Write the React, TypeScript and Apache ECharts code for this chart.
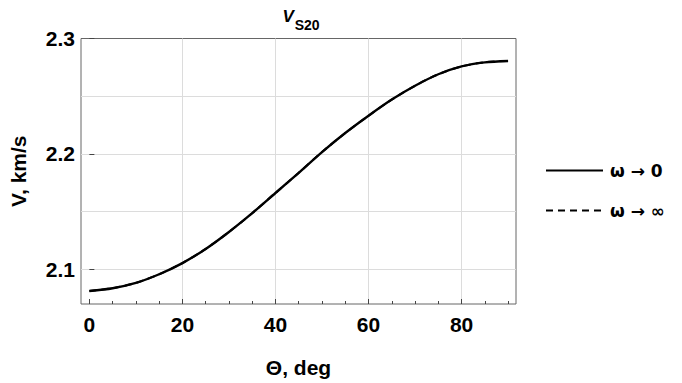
import React, { useEffect, useRef } from "react";
import * as echarts from "echarts";

// Polar angle of propagation, degrees
const thetaDeg = [0, 5, 10, 15, 20, 25, 30, 35, 40, 45, 50, 55, 60, 65, 70, 75, 80, 85, 90];
// Phase velocity of the S20 mode in the low-frequency limit, km/s
const vLowFreq = [
  2.081, 2.0834, 2.088, 2.0955, 2.1052, 2.1175, 2.1322, 2.1485, 2.166, 2.1835,
  2.2015, 2.218, 2.233, 2.247, 2.259, 2.269, 2.2758, 2.2793, 2.2805,
];
// Phase velocity in the high-frequency limit (coincides with the low-frequency curve)
const vHighFreq = [
  2.081, 2.0834, 2.088, 2.0955, 2.1052, 2.1175, 2.1322, 2.1485, 2.166, 2.1835,
  2.2015, 2.218, 2.233, 2.247, 2.259, 2.269, 2.2758, 2.2793, 2.2805,
];

const xMajorTicks = [0, 20, 40, 60, 80];
const xMinorTicks = [5, 10, 15, 25, 30, 35, 45, 50, 55, 65, 70, 75, 85, 90];
const xGridValues = [20, 40, 60, 80];
const yMajorTicks = [2.1, 2.2, 2.3];
const yGridValues = [2.1, 2.15, 2.2, 2.25];

const seriesNames = ["\u03c9 \u2192 0", "\u03c9 \u2192 \u221e"];

const FONT = "'Liberation Sans', Arial, 'DejaVu Sans', sans-serif";
const LEGEND_FONT = "'DejaVu Sans', 'Liberation Sans', sans-serif";
const X_MIN = -1.8;
const X_MAX = 91.7;
const Y_MIN = 2.0697;
const Y_MAX = 2.3;

export default function App() {
  const ref = useRef<HTMLDivElement>(null);

  useEffect(() => {
    if (!ref.current) return;
    const chart = echarts.init(ref.current, null, { renderer: "svg" });

    const pairs = (ys: number[]) => thetaDeg.map((t, i) => [t, ys[i]]);
    const tickColor = "#444";
    const gridColor = "#dcdcdc";

    const baseX = {
      type: "value" as const,
      min: X_MIN,
      max: X_MAX,
      position: "bottom" as const,
      axisLine: { show: false },
      splitLine: { show: false },
    };
    const baseY = {
      type: "value" as const,
      min: Y_MIN,
      max: Y_MAX,
      position: "left" as const,
      axisLine: { show: false },
      splitLine: { show: false },
    };

    chart.setOption({
      animation: false,
      backgroundColor: "#fff",
      textStyle: { fontFamily: FONT },
      title: {
        text: "{v|V}{s|S20}",
        left: 296,
        textAlign: "center",
        top: 3,
        textStyle: {
          rich: {
            v: {
              fontFamily: FONT,
              fontSize: 17,
              fontWeight: "bold",
              fontStyle: "italic",
              color: "#000",
              lineHeight: 24,
              verticalAlign: "top",
            },
            s: {
              fontFamily: FONT,
              fontSize: 14,
              fontWeight: "bold",
              color: "#000",
              lineHeight: 24,
              padding: [8, 0, 0, 1],
              verticalAlign: "bottom",
            },
          },
        },
      },
      legend: {
        orient: "vertical",
        left: 540,
        top: 157,
        itemWidth: 57,
        itemHeight: 20,
        itemGap: 23,
        itemStyle: { opacity: 0 },
        lineStyle: { color: "#000", width: 2 },
        textStyle: {
          fontFamily: LEGEND_FONT,
          fontSize: 17,
          fontWeight: "bold",
          color: "#000",
          padding: [0, 0, 0, 2],
        },
        data: seriesNames,
      },
      grid: {
        left: 79,
        top: 38.5,
        right: 166,
        bottom: 73,
        show: true,
        borderColor: "#666",
        borderWidth: 1,
        backgroundColor: "transparent",
      },
      xAxis: [
        {
          ...baseX,
          name: "\u0398, deg",
          nameLocation: "middle",
          nameGap: 53,
          nameTextStyle: { fontFamily: FONT, fontSize: 21, fontWeight: "bold", color: "#000" },
          axisTick: { inside: true, length: 5, customValues: xMajorTicks, lineStyle: { color: tickColor } },
          axisLabel: {
            customValues: xMajorTicks,
            margin: 10,
            fontFamily: FONT,
            fontSize: 21,
            fontWeight: "bold",
            color: "#000",
          },
        },
        {
          ...baseX,
          axisTick: { inside: true, length: 3, customValues: xMinorTicks, lineStyle: { color: tickColor } },
          axisLabel: { show: false },
        },
        {
          ...baseX,
          axisTick: { show: false, customValues: xGridValues },
          axisLabel: { show: false },
          splitLine: { show: true, lineStyle: { color: gridColor, width: 1 } },
        },
      ],
      yAxis: [
        {
          ...baseY,
          name: "V, km/s",
          nameLocation: "middle",
          nameGap: 52,
          nameRotate: 90,
          nameTextStyle: { fontFamily: FONT, fontSize: 21, fontWeight: "bold", color: "#000" },
          axisTick: { inside: true, length: 5, customValues: yMajorTicks, lineStyle: { color: tickColor } },
          axisLabel: {
            customValues: yMajorTicks,
            margin: 6,
            formatter: (v: number) => v.toFixed(1),
            fontFamily: FONT,
            fontSize: 21,
            fontWeight: "bold",
            color: "#000",
          },
        },
        {
          ...baseY,
          axisTick: { show: false, customValues: yGridValues },
          axisLabel: { show: false },
          splitLine: { show: true, lineStyle: { color: gridColor, width: 1 } },
        },
      ],
      series: [
        {
          name: seriesNames[0],
          type: "line",
          xAxisIndex: 0,
          yAxisIndex: 0,
          data: pairs(vLowFreq),
          smooth: 0.3,
          symbol: "none",
          itemStyle: { color: "#000" },
          lineStyle: { color: "#000", width: 2.4, type: "solid" },
          z: 3,
        },
        {
          name: seriesNames[1],
          type: "line",
          xAxisIndex: 0,
          yAxisIndex: 0,
          data: pairs(vHighFreq),
          smooth: 0.3,
          symbol: "none",
          itemStyle: { color: "#000" },
          lineStyle: { color: "#000", width: 2, type: [7, 5] },
          z: 4,
        },
      ],
    });

    return () => chart.dispose();
  }, []);

  return (
    <div
      ref={ref}
      style={{ position: "fixed", left: 0, top: 0, width: 682, height: 383, background: "#fff" }}
    />
  );
}
